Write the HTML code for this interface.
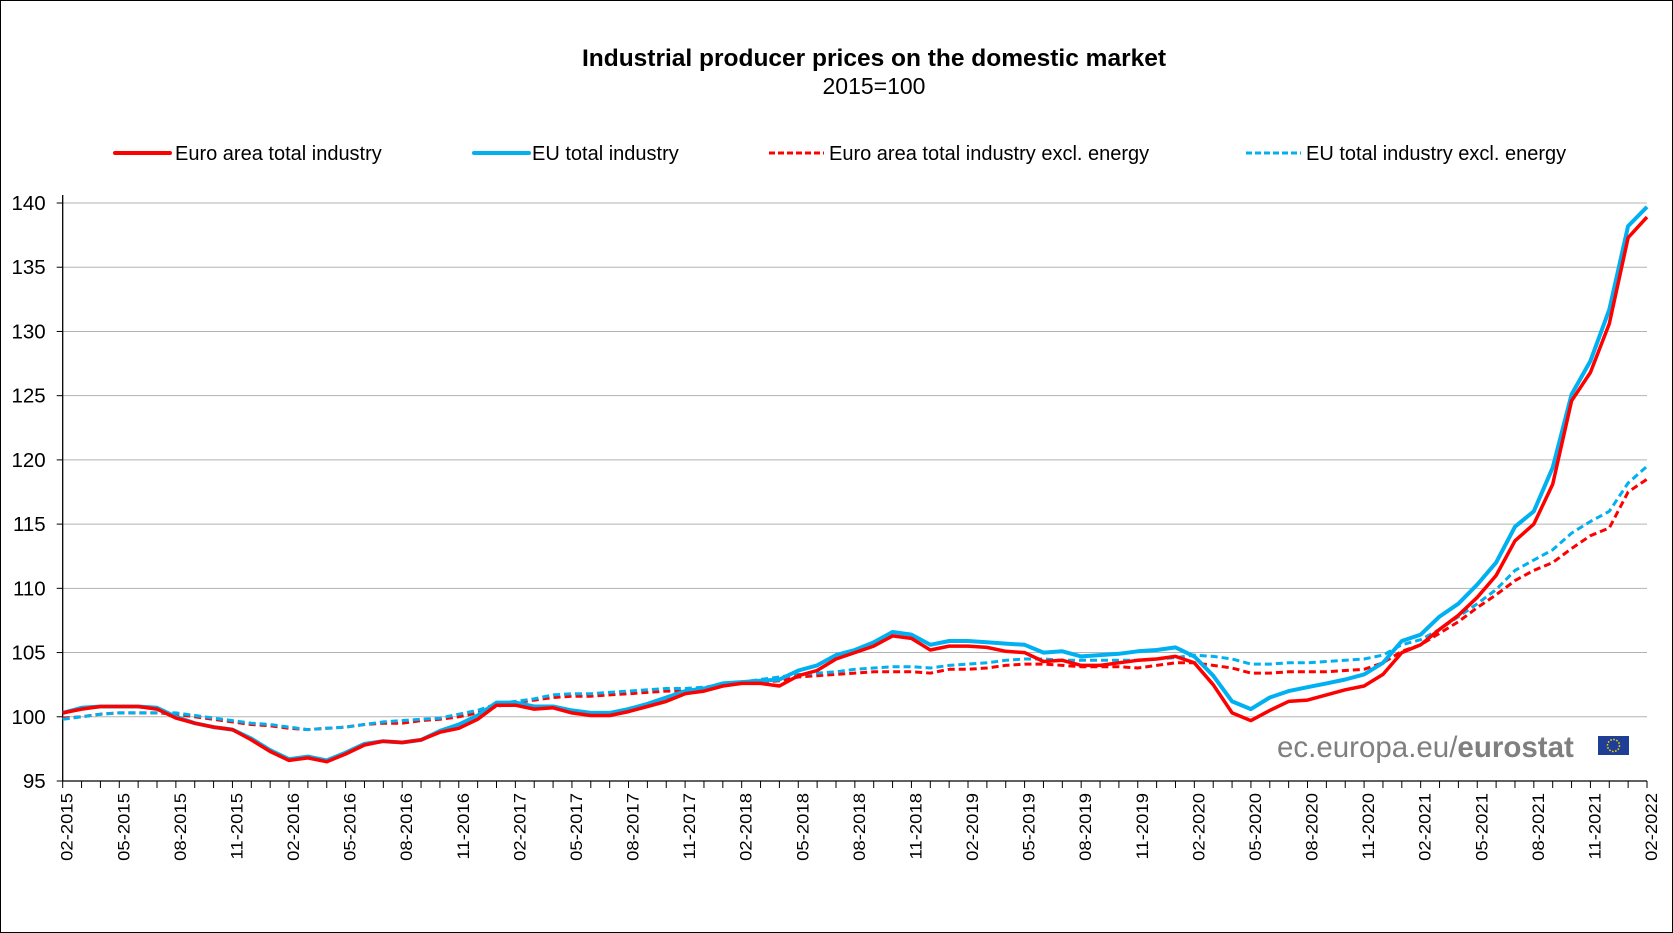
<!DOCTYPE html>
<html><head><meta charset="utf-8"><style>
html,body{margin:0;padding:0;background:#fff;}
#wrap{position:relative;width:1671px;height:931px;border:1px solid #000;overflow:hidden;font-family:"Liberation Sans",Arial,sans-serif;}
svg{position:absolute;left:0;top:0;}
</style></head><body>
<div id="wrap">
<svg id="chart" width="1673" height="933"></svg>
</div>
<script>
const yTicks=[95,100,105,110,115,120,125,130,135,140];
const startYear=2015,startMonth=2;
const eaTotal=[100.3,100.6,100.8,100.8,100.8,100.6,99.9,99.5,99.2,99.0,98.2,97.3,96.6,96.8,96.5,97.1,97.8,98.1,98.0,98.2,98.8,99.1,99.8,100.9,100.9,100.6,100.7,100.3,100.1,100.1,100.4,100.8,101.2,101.8,102.0,102.4,102.6,102.6,102.4,103.2,103.6,104.5,105.0,105.5,106.3,106.1,105.2,105.5,105.5,105.4,105.1,105.0,104.3,104.4,104.0,104.0,104.2,104.4,104.5,104.7,104.2,102.5,100.3,99.7,100.5,101.2,101.3,101.7,102.1,102.4,103.3,105.0,105.6,106.8,107.9,109.3,111.0,113.7,115.0,118.1,124.6,126.8,130.6,137.3,138.9];
const euTotal=[100.3,100.7,100.8,100.8,100.8,100.7,100.0,99.5,99.2,99.0,98.3,97.4,96.7,96.9,96.6,97.2,97.9,98.1,98.0,98.2,98.9,99.4,100.1,101.1,101.1,100.8,100.8,100.5,100.3,100.3,100.6,101.0,101.5,102.0,102.2,102.6,102.7,102.8,102.9,103.6,104.0,104.8,105.2,105.8,106.6,106.4,105.6,105.9,105.9,105.8,105.7,105.6,105.0,105.1,104.7,104.8,104.9,105.1,105.2,105.4,104.7,103.2,101.2,100.6,101.5,102.0,102.3,102.6,102.9,103.3,104.2,105.9,106.4,107.8,108.8,110.3,112.0,114.8,116.0,119.4,125.1,127.7,131.7,138.2,139.7];
const eaExEnergy=[99.9,100.0,100.2,100.3,100.3,100.3,100.2,100.0,99.8,99.6,99.4,99.3,99.1,99.0,99.1,99.2,99.4,99.5,99.5,99.7,99.8,100.0,100.3,100.8,101.1,101.3,101.5,101.6,101.6,101.7,101.8,101.9,102.0,102.0,102.2,102.4,102.6,102.7,102.8,103.1,103.2,103.3,103.4,103.5,103.5,103.5,103.4,103.7,103.7,103.8,104.0,104.1,104.1,104.0,103.9,103.9,103.9,103.8,104.0,104.2,104.2,104.0,103.8,103.4,103.4,103.5,103.5,103.5,103.6,103.7,104.2,105.1,105.6,106.5,107.4,108.5,109.5,110.6,111.4,112.0,113.1,114.1,114.7,117.5,118.5];
const euExEnergy=[99.8,100.0,100.2,100.3,100.3,100.3,100.3,100.1,99.9,99.7,99.5,99.4,99.2,99.0,99.1,99.2,99.4,99.6,99.7,99.8,99.9,100.2,100.5,101.0,101.2,101.4,101.7,101.8,101.8,101.9,102.0,102.1,102.2,102.2,102.3,102.5,102.7,102.9,103.1,103.3,103.4,103.5,103.7,103.8,103.9,103.9,103.8,104.0,104.1,104.2,104.4,104.5,104.5,104.4,104.4,104.4,104.4,104.4,104.5,104.6,104.8,104.7,104.5,104.1,104.1,104.2,104.2,104.3,104.4,104.5,104.8,105.6,106.0,106.8,107.8,108.8,109.9,111.4,112.2,113.0,114.3,115.2,116.0,118.2,119.5];
const seriesNames=["Euro area total industry","EU total industry","Euro area total industry excl. energy","EU total industry excl. energy"];

const NS="http://www.w3.org/2000/svg";
const svg=document.getElementById('chart');
const X0=61.7,X1=1646,Y0=780,Y1=202,VMIN=95,VMAX=140;
const nPts=euTotal.length;
function xs(i){return X0+i*(X1-X0)/(nPts-1);}
function ys(v){return Y0-(v-VMIN)*(Y0-Y1)/(VMAX-VMIN);}
function mk(tag,attrs,parent){const e=document.createElementNS(NS,tag);for(const k in attrs)e.setAttribute(k,attrs[k]);(parent||svg).appendChild(e);return e;}

let t=mk('text',{x:873,y:65,'text-anchor':'middle','font-size':'24.5','font-weight':'bold','font-family':'Liberation Sans, sans-serif'});


t.textContent='Industrial producer prices on the domestic market';
t=mk('text',{x:873,y:93,'text-anchor':'middle','font-size':'23','font-family':'Liberation Sans, sans-serif'});


t.textContent='2015=100';

yTicks.forEach(v=>{
  const y=ys(v);
  if(v>VMIN){const g=mk('line',{x1:X0,x2:X1,y1:y,y2:y,stroke:'#b3b3b3','stroke-width':1});
  
  }
  const tk=mk('line',{x1:X0-6,x2:X0,y1:y,y2:y,stroke:'#000','stroke-width':1});
  
  
  const lb=mk('text',{x:X0-17,y:y+7,'text-anchor':'end','font-size':'20.5','font-family':'Liberation Sans, sans-serif'});
  
  
  lb.textContent=v;
});
let ax=mk('line',{x1:X0,x2:X0,y1:Y1-8,y2:Y0,stroke:'#000','stroke-width':1.3});


ax=mk('line',{x1:X0,x2:X1,y1:Y0,y2:Y0,stroke:'#000','stroke-width':1.3});


for(let i=0;i<nPts;i++){
  const x=xs(i);
  const tk=mk('line',{x1:x,x2:x,y1:Y0,y2:Y0+7,stroke:'#000','stroke-width':1});
  
  
  if(i%3===0){
    const m=(startMonth-1+i)%12+1, yr=startYear+Math.floor((startMonth-1+i)/12);
    const lab=(m<10?'0':'')+m+'-'+yr;
    const lb=mk('text',{x:0,y:0,'text-anchor':'end','font-size':'18.5','font-family':'Liberation Sans, sans-serif',transform:`translate(${x+10},${Y0+12}) rotate(-90) scale(1,0.92)`});
    
    
    lb.textContent=lab;
  }
}
let wm=mk('text',{x:1276,y:756,'font-size':'29.5','fill':'#7f7f7f','font-family':'Liberation Sans, sans-serif'});


wm.innerHTML='ec.europa.eu/<tspan font-weight="bold">eurostat</tspan>';
let fl=mk('rect',{x:1597,y:735,width:31,height:19,fill:'#1f3f96'});


mk('circle',{cx:1612.5,cy:744.5,r:6,fill:'none',stroke:'#ffd700','stroke-width':1.5,'stroke-dasharray':'1.5 1.6'});

const series=[
  {d:eaExEnergy,c:'#ff0000',w:3,dash:'7 4',n:'euro-area-excl-energy-line'},
  {d:euExEnergy,c:'#00b0f0',w:3,dash:'7 4',n:'eu-excl-energy-line'},
  {d:euTotal,c:'#00b0f0',w:4,dash:null,n:'eu-total-line'},
  {d:eaTotal,c:'#ff0000',w:3.5,dash:null,n:'euro-area-total-line'}
];
series.forEach(s=>{
  const pts=s.d.map((v,i)=>xs(i).toFixed(1)+','+ys(v).toFixed(1)).join(' ');
  const a={points:pts,fill:'none',stroke:s.c,'stroke-width':s.w,'stroke-linejoin':'round'};
  if(s.dash)a['stroke-dasharray']=s.dash;
  const p=mk('polyline',a);
  
  
});

const leg=[
  {x:114,tx:174,c:'#ff0000',w:4,dash:null},
  {x:473,tx:531,c:'#00b0f0',w:4,dash:null},
  {x:768,tx:828,c:'#ff0000',w:3,dash:'6 3'},
  {x:1245,tx:1305,c:'#00b0f0',w:3,dash:'6 3'}
];
leg.forEach((l,i)=>{
  const a={x1:l.x,x2:l.x+55,y1:152,y2:152,stroke:l.c,'stroke-width':l.w,'stroke-linecap':l.dash?'butt':'round'};
  if(l.dash)a['stroke-dasharray']=l.dash;
  const ln=mk('line',a);
  
  
  const tx=mk('text',{x:l.tx,y:159,'font-size':'20','font-family':'Liberation Sans, sans-serif'});
  
  
  tx.textContent=seriesNames[i];
});
</script>
</body></html>
